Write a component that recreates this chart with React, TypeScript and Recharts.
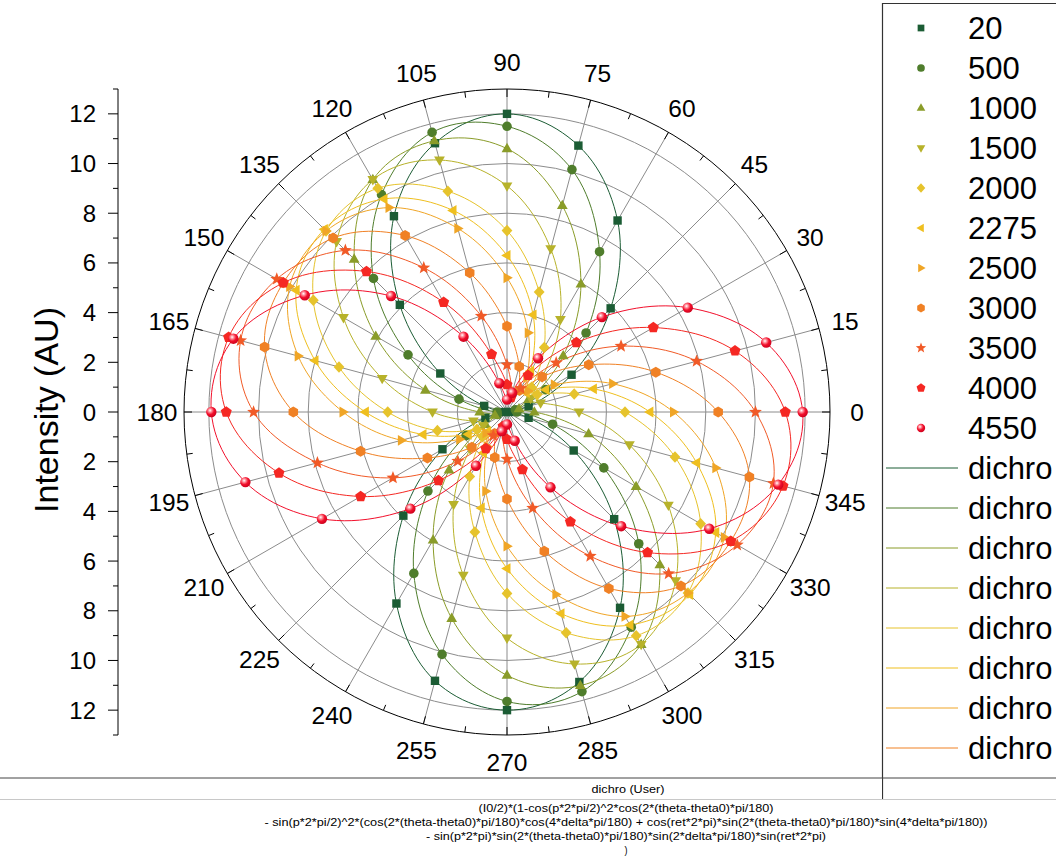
import React from "react";
import {
  RadarChart,
  Radar,
  PolarGrid,
  PolarAngleAxis,
  PolarRadiusAxis,
  LineChart,
  Line,
  YAxis,
} from "recharts";

// measurement angles, one marker every 15 degrees
const ANGLES = [0, 15, 30, 45, 60, 75, 90, 105, 120, 135, 150, 165, 180, 195, 210, 225, 240, 255, 270, 285, 300, 315, 330, 345];
const MINOR_ANGLES = ANGLES.map((a) => a + 7.5);

const MAJOR_RINGS = [2, 4, 6, 8, 10, 12];
const MINOR_RINGS = [1, 3, 5, 7, 9, 11];
const Y_TICKS = [-13, -12, -11, -10, -9, -8, -7, -6, -5, -4, -3, -2, -1, 0, 1, 2, 3, 4, 5, 6, 7, 8, 9, 10, 11, 12, 13];

// intensity per angle for each series
const S20 = [0.1, 0.9, 3.0, 5.9, 8.9, 11.1, 12.0, 11.2, 9.1, 6.1, 3.1, 0.95, 0.1, 0.9, 3.0, 5.9, 8.9, 11.2, 12.0, 11.25, 9.1, 6.1, 3.1, 0.9];
const S500 = [0.4, 0.35, 1.8, 4.5, 7.45, 10.1, 11.5, 11.65, 10.1, 7.6, 4.6, 2.0, 0.4, 0.4, 1.9, 4.5, 7.5, 10.1, 11.65, 11.65, 10.0, 7.5, 4.5, 1.9];
const S1000 = [1.1, 0.5, 1.0, 3.2, 5.95, 8.6, 10.6, 11.3, 10.8, 8.7, 6.1, 3.4, 1.1, 0.5, 1.0, 3.3, 5.95, 8.6, 10.6, 11.4, 10.8, 8.7, 6.0, 3.4];
const S1500 = [2.9, 1.4, 1.1, 2.0, 4.3, 6.8, 9.1, 10.5, 10.8, 9.7, 7.6, 5.2, 3.0, 1.4, 1.1, 2.1, 4.3, 6.8, 9.1, 10.5, 10.8, 9.6, 7.5, 5.1];
const S2000 = [4.75, 2.8, 1.4, 1.4, 3.0, 5.0, 7.3, 9.2, 10.4, 10.3, 9.0, 7.0, 4.8, 2.9, 1.4, 1.4, 3.0, 5.0, 7.3, 9.2, 10.4, 10.3, 9.0, 7.0];
const S2275 = [5.75, 3.6, 1.8, 1.1, 1.9, 4.05, 6.3, 8.4, 9.9, 10.4, 9.8, 8.0, 5.7, 3.5, 1.8, 1.1, 1.9, 4.0, 6.3, 8.4, 9.9, 10.4, 9.7, 7.9];
const S2500 = [6.7, 4.4, 2.2, 1.2, 1.6, 3.3, 5.4, 7.65, 9.5, 10.3, 10.1, 8.7, 6.6, 4.4, 2.2, 1.2, 1.6, 3.3, 5.4, 7.6, 9.5, 10.3, 10.1, 8.7];
const S3000 = [8.5, 6.2, 3.8, 2.0, 1.0, 1.9, 3.45, 5.8, 8.2, 9.9, 10.4, 10.1, 8.6, 6.1, 3.7, 2.0, 1.0, 1.9, 3.5, 5.8, 8.2, 9.9, 10.4, 10.1];
const S3500 = [10.0, 7.9, 5.3, 2.8, 1.1, 0.8, 1.9, 4.0, 6.7, 9.2, 10.7, 11.1, 10.2, 7.9, 5.3, 2.8, 1.1, 0.8, 1.9, 4.0, 6.7, 9.2, 10.7, 11.1];
const S4000 = [11.2, 9.5, 6.8, 3.95, 1.7, 0.6, 1.1, 2.4, 5.1, 8.0, 10.4, 11.6, 11.3, 9.5, 6.8, 3.9, 1.7, 0.6, 1.1, 2.4, 5.1, 8.0, 10.4, 11.5];
const S4550 = [11.9, 10.8, 8.4, 5.4, 2.5, 0.8, 0.5, 1.2, 3.5, 6.6, 9.4, 11.4, 11.9, 10.9, 8.6, 5.5, 2.5, 0.8, 0.5, 1.2, 3.5, 6.5, 9.4, 11.3];

const SERIES = [
  { key: "s20", name: "20", color: "#1b5c34", marker: "square", values: S20 },
  { key: "s500", name: "500", color: "#4f7d2c", marker: "circle", values: S500 },
  { key: "s1000", name: "1000", color: "#8a9c29", marker: "triUp", values: S1000 },
  { key: "s1500", name: "1500", color: "#b7b22a", marker: "triDown", values: S1500 },
  { key: "s2000", name: "2000", color: "#e6c32c", marker: "diamond", values: S2000 },
  { key: "s2275", name: "2275", color: "#efbf1f", marker: "triLeft", values: S2275 },
  { key: "s2500", name: "2500", color: "#f0a526", marker: "triRight", values: S2500 },
  { key: "s3000", name: "3000", color: "#f08125", marker: "hexagon", values: S3000 },
  { key: "s3500", name: "3500", color: "#f15a27", marker: "star", values: S3500 },
  { key: "s4000", name: "4000", color: "#f52823", marker: "pentagon", values: S4000 },
  { key: "s4550", name: "4550", color: "#f2102c", marker: "sphere", values: S4550 },
];

const FIT_NAME = "dichro";
const FIT_TITLE = "dichro (User)";
const FIT_FORMULA = [
  "(I0/2)*(1-cos(p*2*pi/2)^2*cos(2*(theta-theta0)*pi/180)",
  "- sin(p*2*pi/2)^2*(cos(2*(theta-theta0)*pi/180)*cos(4*delta*pi/180) + cos(ret*2*pi)*sin(2*(theta-theta0)*pi/180)*sin(4*delta*pi/180))",
  "- sin(p*2*pi)*sin(2*(theta-theta0)*pi/180)*sin(2*delta*pi/180)*sin(ret*2*pi)",
  ")",
];
const FORMULA_WIDTHS = [295, 723, 400, 3];

// the radar lays categories out clockwise, so walk the angles backwards
// (0, 345, 330, ...) to end up with a counter-clockwise polar plot
const ORDER = ANGLES.map((_, i) => (ANGLES.length - i) % ANGLES.length);
const rows = ORDER.map((idx) => {
  const row: Record<string, number> = { angle: ANGLES[idx] };
  SERIES.forEach((s) => {
    row[s.key] = s.values[idx];
  });
  return row;
});

const RAD = Math.PI / 180;
const FONT = "'Liberation Sans', Arial, Helvetica, sans-serif";

function polar(cx: number, cy: number, r: number, deg: number) {
  return { x: cx + Math.cos(-deg * RAD) * r, y: cy + Math.sin(-deg * RAD) * r };
}

function regular(n: number, r: number, rot: number) {
  const pts: string[] = [];
  for (let i = 0; i < n; i++) {
    const a = rot + (i * 2 * Math.PI) / n;
    pts.push(`${(Math.cos(a) * r).toFixed(2)},${(Math.sin(a) * r).toFixed(2)}`);
  }
  return pts.join(" ");
}

function starPoints(ro: number, ri: number) {
  const pts: string[] = [];
  for (let i = 0; i < 10; i++) {
    const r = i % 2 === 0 ? ro : ri;
    const a = -Math.PI / 2 + (i * Math.PI) / 5;
    pts.push(`${(Math.cos(a) * r).toFixed(2)},${(Math.sin(a) * r).toFixed(2)}`);
  }
  return pts.join(" ");
}

function Marker({ kind, x, y, color, k = 1 }: { kind: string; x: number; y: number; color: string; k?: number }) {
  const t = `translate(${x},${y}) scale(${k})`;
  switch (kind) {
    case "square":
      return <rect x={-4.2} y={-4.2} width={8.4} height={8.4} fill={color} transform={t} />;
    case "circle":
      return <circle r={4.8} fill={color} transform={t} />;
    case "triUp":
      return <polygon points="0,-5.8 5.4,3.5 -5.4,3.5" fill={color} transform={t} />;
    case "triDown":
      return <polygon points="0,5.8 5.4,-3.5 -5.4,-3.5" fill={color} transform={t} />;
    case "diamond":
      return <polygon points="0,-5.8 5.4,0 0,5.8 -5.4,0" fill={color} transform={t} />;
    case "triLeft":
      return <polygon points="-5.8,0 3.5,-5.4 3.5,5.4" fill={color} transform={t} />;
    case "triRight":
      return <polygon points="5.8,0 -3.5,-5.4 -3.5,5.4" fill={color} transform={t} />;
    case "hexagon":
      return <polygon points={regular(6, 5.5, -Math.PI / 2)} fill={color} transform={t} />;
    case "star":
      return <polygon points={starPoints(6.8, 2.9)} fill={color} transform={t} />;
    case "pentagon":
      return <polygon points={regular(5, 5.8, -Math.PI / 2)} fill={color} transform={t} />;
    case "sphere":
      return <circle r={5.2} fill="url(#sphereFill)" transform={t} />;
    default:
      return null;
  }
}

// cubic (Catmull-Rom) interpolation of the radius between neighbouring angles
function cr(p0: number, p1: number, p2: number, p3: number, t: number) {
  const t2 = t * t;
  const t3 = t2 * t;
  return 0.5 * (2 * p1 + (-p0 + p2) * t + (2 * p0 - 5 * p1 + 4 * p2 - p3) * t2 + (-p0 + 3 * p1 - 3 * p2 + p3) * t3);
}

// closed smooth curve through the radar points, drawn in polar space
function FitLoop(props: any) {
  const { points, stroke } = props;
  const pts = (points || []).filter((p: any) => p.value != null);
  const n = pts.length;
  if (n < 3) return null;
  const steps = 12;
  let d = "";
  for (let i = 0; i < n; i++) {
    const p0 = pts[(i - 1 + n) % n];
    const p1 = pts[i];
    const p2 = pts[(i + 1) % n];
    const p3 = pts[(i + 2) % n];
    const a1 = p1.angle;
    const da = ((((p2.angle - a1) % 360) + 540) % 360) - 180;
    for (let k = 0; k < steps; k++) {
      const t = k / steps;
      const r = Math.max(0, cr(p0.radius, p1.radius, p2.radius, p3.radius, t));
      const q = polar(p1.cx, p1.cy, r, a1 + da * t);
      d += `${d ? "L" : "M"}${q.x.toFixed(2)},${q.y.toFixed(2)}`;
    }
  }
  d += "Z";
  return <path d={d} fill="none" stroke={stroke} strokeWidth={1} />;
}

function AngleTick(props: any) {
  const { cx, cy, x, y, payload } = props;
  const radius = props.radius ?? Math.hypot(x - cx, y - cy) + 8;
  const a = payload.coordinate;
  const lp = polar(cx, cy, radius + 27, a);
  const m1 = polar(cx, cy, radius, a + 7.5);
  const m2 = polar(cx, cy, radius - 6, a + 7.5);
  return (
    <g>
      <line x1={m1.x} y1={m1.y} x2={m2.x} y2={m2.y} stroke="#000" strokeWidth={1} />
      <text x={lp.x} y={lp.y} textAnchor="middle" dominantBaseline="central" fontSize={24.5} fontFamily={FONT} fill="#000">
        {payload.value}
      </text>
    </g>
  );
}

function YTick(props: any) {
  const { x, y, payload } = props;
  const v = payload.value;
  const major = v % 2 === 0;
  return (
    <g>
      <line x1={x - (major ? 10 : 5)} y1={y} x2={x} y2={y} stroke="#000" strokeWidth={1} />
      {major && Math.abs(v) < 13 ? (
        <text x={x - 22} y={y} textAnchor="end" dominantBaseline="central" fontSize={24} fontFamily={FONT} fill="#000">
          {Math.abs(v)}
        </text>
      ) : null}
    </g>
  );
}

export default function App() {
  const legendTop = 28;
  const legendStep = 40;
  return (
    <div style={{ position: "absolute", left: 0, top: 0, width: 1056, height: 856, background: "#fff", overflow: "hidden", fontFamily: FONT }}>
      <div style={{ position: "absolute", left: 0, top: 0 }}>
        <RadarChart
          width={880}
          height={778}
          cx={507}
          cy={412}
          outerRadius={323}
          startAngle={0}
          endAngle={-360}
          data={rows}
          margin={{ top: 0, right: 0, bottom: 0, left: 0 }}
        >
          <defs>
            <radialGradient id="sphereFill" cx="0.38" cy="0.35" r="0.7">
              <stop offset="0%" stopColor="#ffffff" />
              <stop offset="25%" stopColor="#ff8a96" />
              <stop offset="55%" stopColor="#f2102c" />
              <stop offset="100%" stopColor="#c8001c" />
            </radialGradient>
          </defs>
          <PolarGrid gridType="circle" radiusAxisId="minor" polarAngles={MINOR_ANGLES} stroke="#c4c4c4" strokeDasharray="3 3" />
          <PolarGrid gridType="circle" polarAngles={ANGLES} stroke="#8c8c8c" />
          <PolarAngleAxis
            dataKey="angle"
            axisLineType="circle"
            stroke="#000"
            orientation="inner"
            tickSize={8}
            tickLine={{ stroke: "#000" }}
            tick={AngleTick}
          />
          <PolarRadiusAxis type="number" domain={[0, 13]} ticks={MAJOR_RINGS} tick={false} axisLine={false} />
          <PolarRadiusAxis radiusAxisId="minor" type="number" domain={[0, 13]} ticks={MINOR_RINGS} tick={false} axisLine={false} />
          {SERIES.map((s) => (
            <Radar
              key={s.key}
              name={s.name}
              dataKey={s.key}
              stroke={s.color}
              fill="none"
              isAnimationActive={false}
              shape={(p: any) => <FitLoop {...p} stroke={s.color} />}
              dot={(p: any) => <Marker key={`${s.key}-${p.index}`} kind={s.marker} x={p.cx} y={p.cy} color={s.color} />}
            />
          ))}
        </RadarChart>
      </div>

      <div style={{ position: "absolute", left: 0, top: 0 }}>
        <LineChart width={160} height={778} data={Y_TICKS.map((v) => ({ v }))} margin={{ top: 89, right: 40, bottom: 43, left: 0 }}>
          <YAxis
            type="number"
            domain={[-13, 13]}
            ticks={Y_TICKS}
            interval={0}
            width={118}
            tickSize={0}
            tickMargin={0}
            tickLine={false}
            tick={YTick}
            axisLine={{ stroke: "#000" }}
          />
          {/* carries the axis range only, nothing is drawn */}
          <Line dataKey="v" stroke="none" dot={false} activeDot={false} isAnimationActive={false} />
        </LineChart>
      </div>

      <svg width={1056} height={856} style={{ position: "absolute", left: 0, top: 0, pointerEvents: "none" }}>
        <text transform="translate(46,410) rotate(-90)" textAnchor="middle" dominantBaseline="central" fontSize={34} fontFamily={FONT} fill="#000">
          Intensity (AU)
        </text>

        {/* legend box */}
        <line x1={882.5} y1={3} x2={882.5} y2={800} stroke="#333" strokeWidth={1.2} />
        <line x1={882} y1={3.5} x2={1056} y2={3.5} stroke="#333" strokeWidth={1.2} />
        {SERIES.map((s, i) => (
          <g key={s.key}>
            <Marker kind={s.marker} x={921} y={legendTop + i * legendStep} color={s.color} k={0.8} />
            <text x={968} y={legendTop + i * legendStep} dominantBaseline="central" fontSize={31} fontFamily={FONT} fill="#000">
              {s.name}
            </text>
          </g>
        ))}
        {SERIES.slice(0, 8).map((s, j) => {
          const y = legendTop + (SERIES.length + j) * legendStep;
          return (
            <g key={`fit-${s.key}`}>
              <line x1={886} y1={y} x2={958} y2={y} stroke={s.color} strokeWidth={1} />
              <text x={968} y={y} dominantBaseline="central" fontSize={31} fontFamily={FONT} fill="#000">
                {FIT_NAME}
              </text>
            </g>
          );
        })}

        {/* fit function table */}
        <rect x={0} y={778} width={882} height={78} fill="#fff" />
        <rect x={883} y={801} width={173} height={55} fill="#fff" />
        <line x1={0} y1={778} x2={1056} y2={778} stroke="#444" strokeWidth={1} />
        <line x1={0} y1={799.5} x2={1056} y2={799.5} stroke="#c8c8c8" strokeWidth={1} />
        <text x={628} y={789} textAnchor="middle" dominantBaseline="central" fontSize={11} fontFamily={FONT} textLength={73} lengthAdjust="spacingAndGlyphs" fill="#000">
          {FIT_TITLE}
        </text>
        {FIT_FORMULA.map((line, i) => (
          <text
            key={i}
            x={626}
            y={808 + i * 14}
            textAnchor="middle"
            dominantBaseline="central"
            fontSize={11.5}
            fontFamily={FONT}
            textLength={FORMULA_WIDTHS[i]}
            lengthAdjust="spacingAndGlyphs"
            fill="#000"
          >
            {line}
          </text>
        ))}
      </svg>
    </div>
  );
}
